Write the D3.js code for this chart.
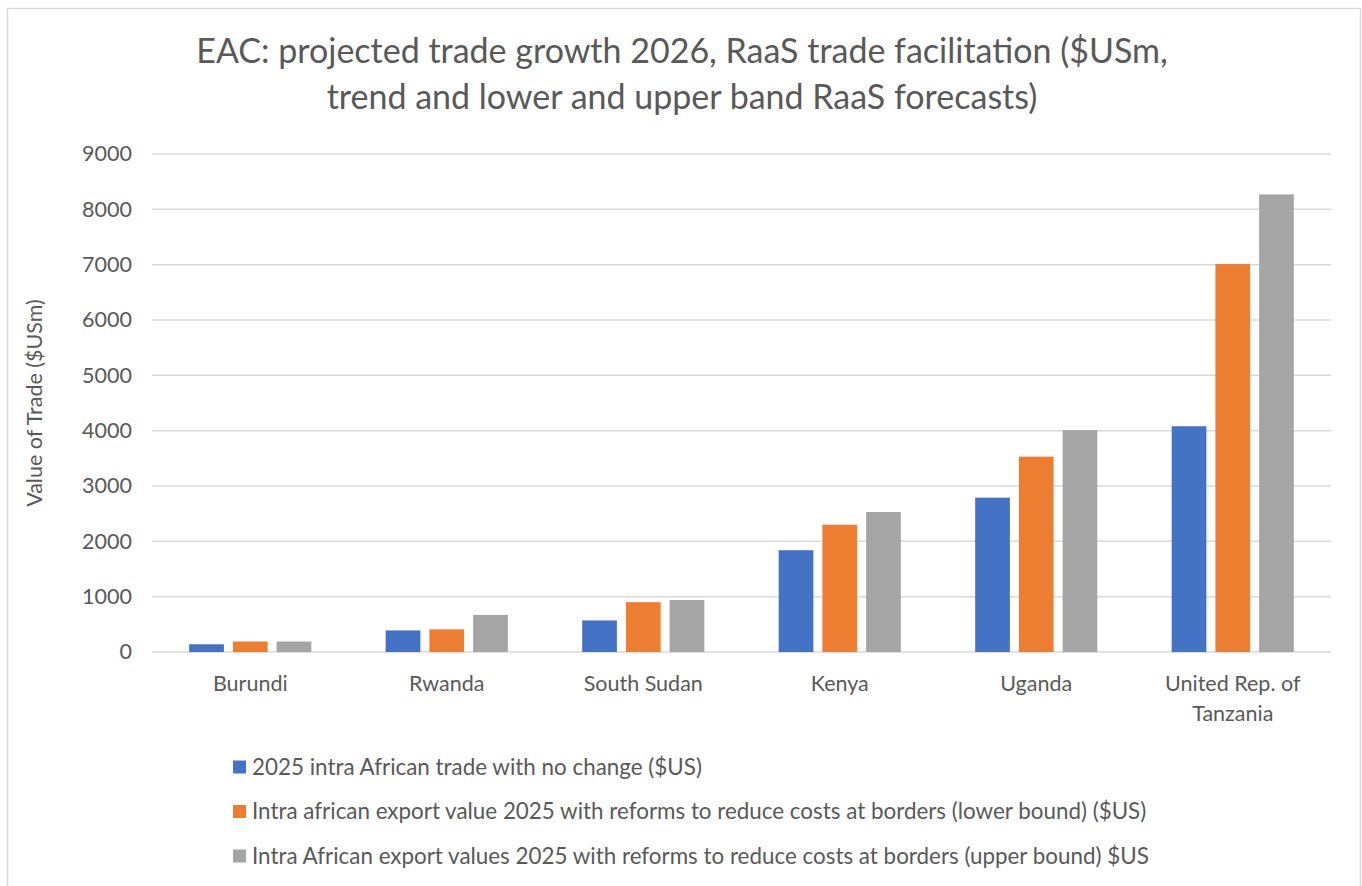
<!DOCTYPE html>
<html>
<head>
<meta charset="utf-8">
<script src="https://cdn.jsdelivr.net/npm/d3@7"></script>
<style>
  html, body { margin: 0; padding: 0; background: #fff; }
  svg { display: block; }
  text { font-family: Lato, "Noto Sans", sans-serif; fill: #595959; }
</style>
</head>
<body>
<svg id="chart" width="1362" height="886"></svg>
<script>
// Countries (x categories)
const countries = ["Burundi", "Rwanda", "South Sudan", "Kenya", "Uganda", "United Rep. of Tanzania"];
const countryLines = [["Burundi"], ["Rwanda"], ["South Sudan"], ["Kenya"], ["Uganda"], ["United Rep. of", "Tanzania"]];

// Series names
const seriesNames = [
  "2025 intra African trade with no change ($US)",
  "Intra african export value 2025 with reforms to reduce costs at borders (lower bound) ($US)",
  "Intra African export values 2025 with reforms to reduce costs at borders (upper bound) $US"
];

// Values, $USm
const noChange   = [140, 390, 570, 1840, 2790, 4080];
const lowerBound = [190, 410, 900, 2300, 3530, 7010];
const upperBound = [190, 670, 940, 2530, 4010, 8270];

const yTicks = [0, 1000, 2000, 3000, 4000, 5000, 6000, 7000, 8000, 9000];

const titleLines = [
  "EAC: projected trade growth 2026, RaaS trade facilitation ($USm,",
  "trend and lower and upper band RaaS forecasts)"
];
const yTitle = "Value of Trade ($USm)";

const colors = ["#4472C4", "#ED7D31", "#A5A5A5"];
const seriesValues = [noChange, lowerBound, upperBound];

const svg = d3.select("#chart");
const plot = { left: 152, right: 1331, top: 154, bottom: 652 };

// Outer chart border
svg.append("rect")
  .attr("x", 7.5).attr("y", 8.5)
  .attr("width", 1353).attr("height", 890)
  .attr("fill", "#fff")
  .attr("stroke", "#D9D9D9").attr("stroke-width", 1.5);

// Title
svg.append("g").selectAll("text")
  .data(titleLines)
  .join("text")
  .attr("x", 682)
  .attr("y", (d, i) => 63 + i * 46)
  .attr("text-anchor", "middle")
  .attr("font-size", 34)
  .text(d => d);

// Scales
const x0 = d3.scaleBand().domain(countries).range([plot.left, plot.right]).padding(0);
const x1 = d3.scaleBand().domain(d3.range(3)).range([0, x0.bandwidth()])
  .paddingInner(0.206).paddingOuter(0.85);
const y = d3.scaleLinear().domain([0, 9000]).range([plot.bottom, plot.top]);

// Gridlines
svg.append("g").selectAll("line")
  .data(yTicks)
  .join("line")
  .attr("x1", plot.left).attr("x2", plot.right)
  .attr("y1", d => y(d)).attr("y2", d => y(d))
  .attr("stroke", "#D9D9D9").attr("stroke-width", 1.5);

// Y axis labels
const yAxis = d3.axisLeft(y).tickValues(yTicks).tickSize(0).tickPadding(0).tickFormat(d3.format("d"));
const yAxisG = svg.append("g").attr("transform", `translate(${plot.left - 20},0)`).call(yAxis);
yAxisG.select(".domain").remove();
yAxisG.selectAll("text")
  .attr("font-size", 21.5)
  .attr("font-family", "Lato, 'Noto Sans', sans-serif")
  .attr("fill", "#595959");

// Y axis title
svg.append("text")
  .attr("transform", `translate(42,${(plot.top + plot.bottom) / 2}) rotate(-90)`)
  .attr("text-anchor", "middle")
  .attr("font-size", 21.5)
  .text(yTitle);

// Bars
const groups = svg.append("g").selectAll("g")
  .data(countries)
  .join("g")
  .attr("transform", d => `translate(${x0(d)},0)`);

groups.selectAll("rect")
  .data((c, ci) => seriesValues.map((vals, si) => ({ si, v: vals[ci] })))
  .join("rect")
  .attr("x", d => x1(d.si))
  .attr("width", x1.bandwidth())
  .attr("y", d => y(d.v))
  .attr("height", d => y(0) - y(d.v))
  .attr("fill", d => colors[d.si]);

// Category labels
const catG = svg.append("g").selectAll("text")
  .data(countryLines)
  .join("text")
  .attr("text-anchor", "middle")
  .attr("font-size", 21.5)
  .attr("x", (d, i) => x0(countries[i]) + x0.bandwidth() / 2)
  .attr("y", 691);
catG.selectAll("tspan")
  .data(d => d)
  .join("tspan")
  .attr("x", function () { return d3.select(this.parentNode).attr("x"); })
  .attr("dy", (d, i) => i === 0 ? 0 : 30)
  .text(d => d);

// Legend
const legend = svg.append("g").attr("transform", "translate(233,767)");
const item = legend.selectAll("g")
  .data(seriesNames)
  .join("g")
  .attr("transform", (d, i) => `translate(0,${i * 44.5})`);
item.append("rect")
  .attr("x", 0).attr("y", -6.5)
  .attr("width", 13).attr("height", 13)
  .attr("fill", (d, i) => colors[i]);
item.append("text")
  .attr("x", 19).attr("y", 7.5)
  .attr("font-size", 22.4)
  .text(d => d);
</script>
</body>
</html>
